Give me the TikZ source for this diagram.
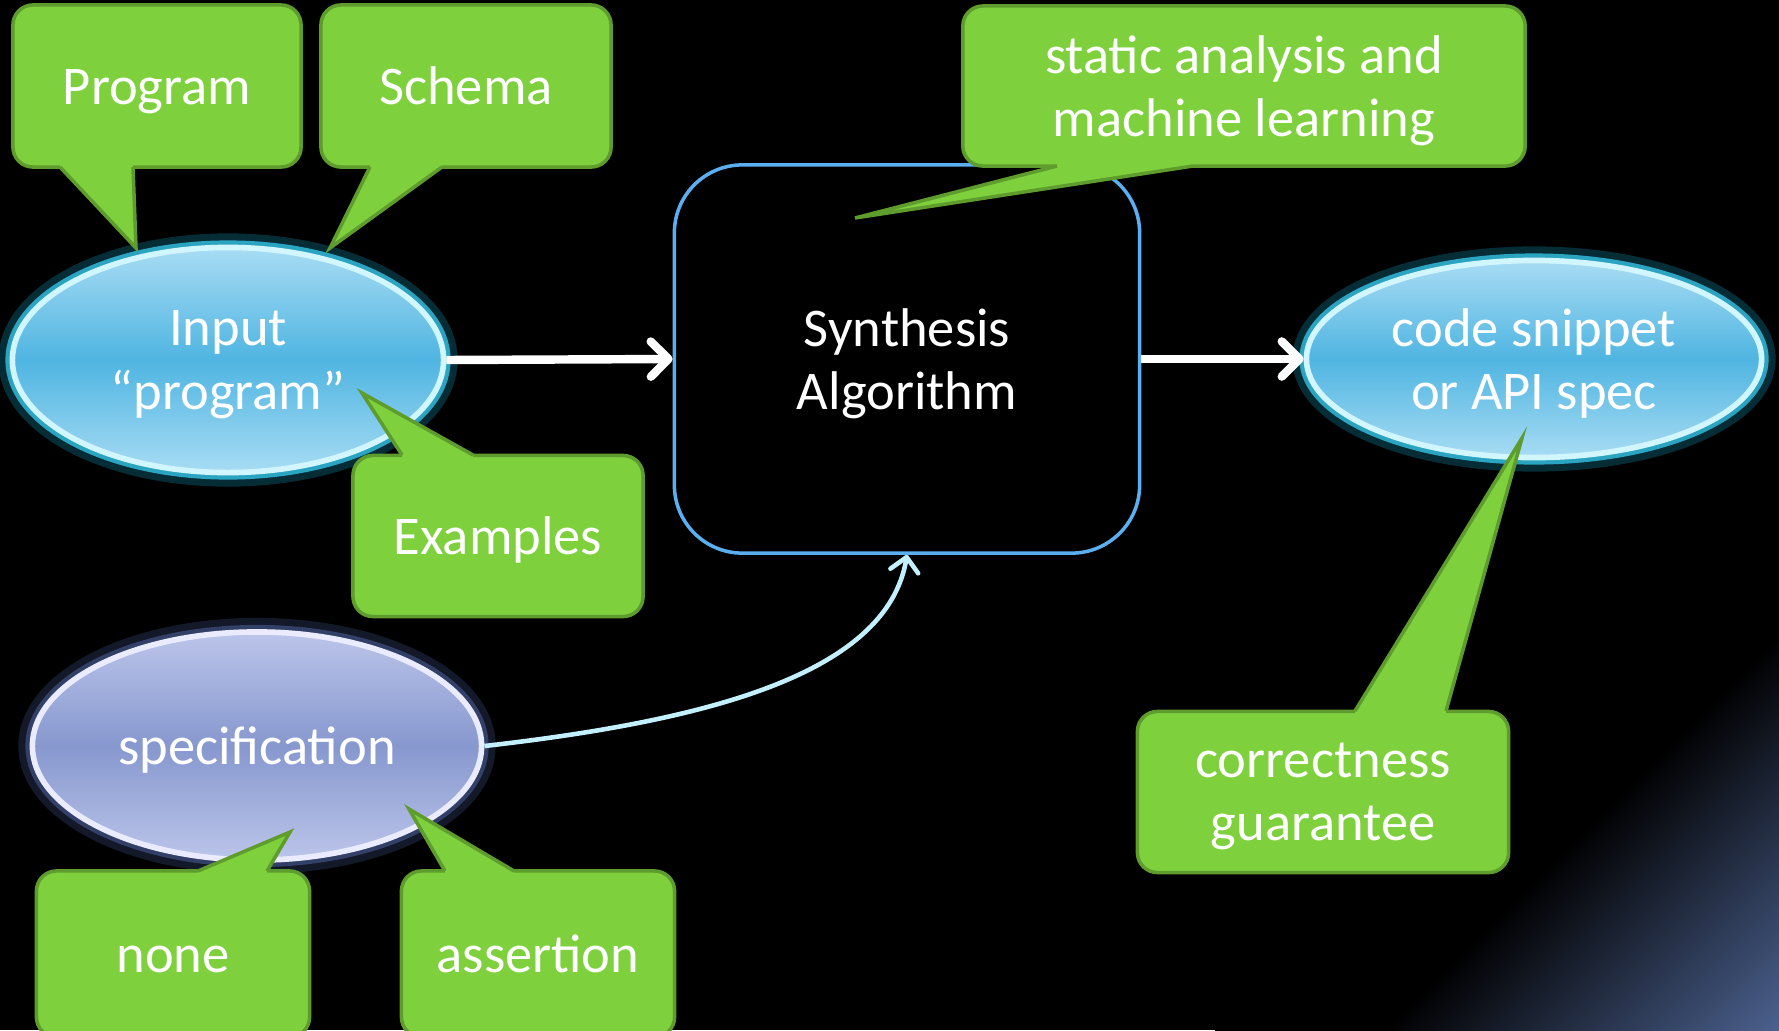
\documentclass[tikz,border=0pt]{standalone}
\usepackage{fontspec}
\setmainfont{Carlito}
\usepackage{tikz}
\usetikzlibrary{arrows.meta,positioning,shapes.geometric}

\definecolor{bubblegreen}{HTML}{7ED13C}
\definecolor{bubbleedge}{HTML}{5E9C2E}
\definecolor{blobtop}{HTML}{A8DCF4}
\definecolor{blobmid}{HTML}{4FB5E1}
\definecolor{haloblue}{HTML}{137F9C}
\definecolor{haloinner}{HTML}{35C2E4}
\definecolor{blobrim}{HTML}{D2F6FF}
\definecolor{spectop}{HTML}{BCC5EA}
\definecolor{specmid}{HTML}{8798CF}
\definecolor{halospec}{HTML}{3A4A78}
\definecolor{boxedge}{HTML}{5BAEF0}
\definecolor{curvecol}{HTML}{C2F0FF}
\definecolor{bgglow}{HTML}{6A88C8}

\begin{document}
\begin{tikzpicture}[
    x=0.01cm, y=-0.01cm,
    txt/.style={text=white, font=\fontsize{15.5}{18}\selectfont, align=center,
        execute at begin node={\rule{0pt}{16pt}}, execute at end node=\strut},
    twolines/.style={text depth=-1pt},
    bubble/.style={txt, rectangle, rounded corners=0.2cm, fill=bubblegreen, draw=bubbleedge, line width=1pt, minimum height=1.61cm, inner sep=0pt},
    bubblefill/.style={fill=bubblegreen},
    bubbleline/.style={draw=bubbleedge, line width=1pt, line join=miter},
    blob/.style={txt, ellipse, line width=1.6pt, inner sep=0pt},
    blueblob/.style={blob, draw=blobrim, preaction={draw=haloblue, line width=8pt, opacity=.35}, preaction={draw=haloinner, line width=4pt, opacity=.8}, top color=blobtop, bottom color=blobtop, middle color=blobmid},
    specblob/.style={blob, draw=white!92!blue, preaction={draw=halospec, line width=8pt, opacity=.35}, preaction={draw=halospec, line width=4pt, opacity=.8}, top color=spectop, bottom color=spectop, middle color=specmid},
    algobox/.style={txt, rectangle, rounded corners=0.68cm, draw=boxedge, line width=1pt, fill=black},
    arrow/.style={-{Straight Barb[length=5pt,width=10pt,round]}, draw=white, line width=2.4pt},
    specarrow/.style={-{Straight Barb[length=4pt,width=8pt,round]}, draw=curvecol, line width=1.3pt}
]

    % --- BACKGROUND ---
    \fill[black] (0,0) rectangle (1779,1030);
    \useasboundingbox (0,0) rectangle (1779,1030);
    \shade[top color=black, bottom color=bgglow, middle color=black, shading angle=45] (1215,404) rectangle (1967,1238);

    % --- MAIN FLOW ---
    \node[blueblob, twolines, minimum width=4.31cm, minimum height=2.25cm] (input) at (228,360) {Input\\“program”};
    \node[algobox, twolines, minimum width=4.65cm, minimum height=3.88cm] (synth) at (907,359) {Synthesis\\Algorithm};
    \node[blueblob, twolines, minimum width=4.55cm, minimum height=1.97cm] (code) at (1534,359) {code snippet\\or API spec};
    \node[specblob, minimum width=4.49cm, minimum height=2.28cm] (spec) at (257,746) {specification};

    \draw[arrow] (input.east) -- (synth.west);
    \draw[arrow] (synth.east) -- (code.west);
    \draw[specarrow] (spec.east) .. controls +(220,-25) and +(-20,120) .. (synth.south);

    % --- CALLOUTS ---
    \node[bubble, minimum width=2.88cm, minimum height=1.62cm] (program) at (157,86) {Program};
    \node[bubble, minimum width=2.90cm, minimum height=1.62cm] (schema) at (466,86) {Schema};
    \node[bubble, twolines, minimum width=5.62cm, minimum height=1.60cm] (static) at (1244,86) {static analysis and\\machine learning};
    \node[bubble, minimum width=2.90cm] (examples) at (498,536) {Examples};
    \node[bubble, twolines, minimum width=3.71cm] (correct) at (1323,792) {correctness\\guarantee};
    \node[bubble, minimum width=2.73cm, minimum height=1.66cm] (none) at (173,954) {none};
    \node[bubble, minimum width=2.73cm, minimum height=1.66cm] (assert) at (538,954) {assertion};

    % pointers: base left x / base right x / base y / tip x / tip y / inward
    \foreach \ax/\bx/\by/\tx/\ty/\dy in {60/133/167/136/248/-14, 370/442/167/330/248/-14,
        1057/1193/166/855/218/-14, 402/473/455/362/393/14, 1355/1446/711/1522/438/14,
        198/267/871/290/832/14, 445/514/871/409/809/14}
    {
        \fill[bubblefill] (\ax,\by) -- (\tx,\ty) -- (\bx,\by) -- (\bx,\by+\dy) -- (\ax,\by+\dy) -- cycle;
        \draw[bubbleline] (\ax,\by) -- (\tx,\ty) -- (\bx,\by);
    }

\end{tikzpicture}
\end{document}
